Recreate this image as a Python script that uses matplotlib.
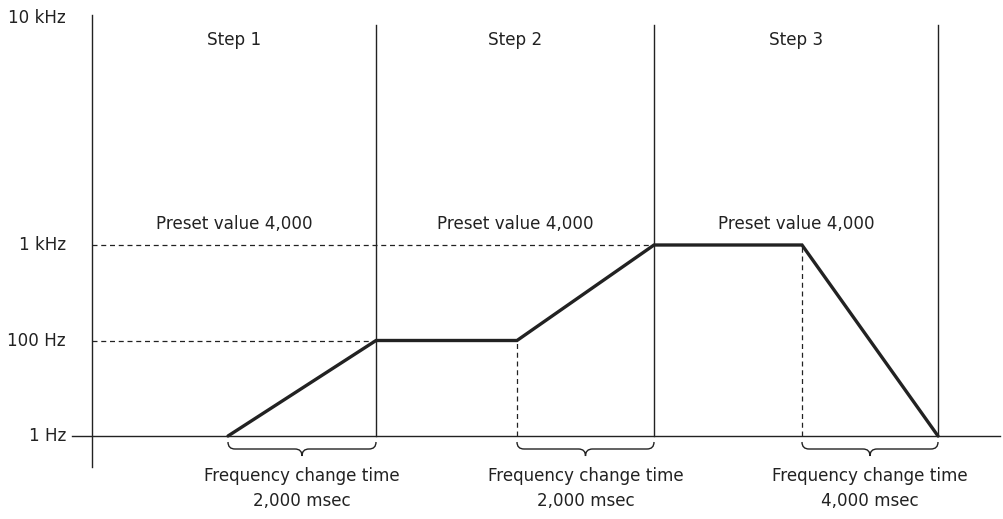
"""
Frequency profile of a 3-step pulse output (schematic).
"""
import numpy as np
import matplotlib
matplotlib.use("Agg")
import matplotlib.pyplot as plt
from matplotlib.path import Path
from matplotlib.patches import PathPatch

# schematic time positions (arbitrary units, y-axis at 0)
STEP_EDGES = [0, 284, 562, 846]
STEP_NAMES = ["Step 1", "Step 2", "Step 3"]
PRESET_LABEL = "Preset value 4,000"

# frequency levels (schematic, evenly spaced except the top one)
LEVEL_NAMES = ["1 Hz", "100 Hz", "1 kHz", "10 kHz"]
LEVEL_POS = [0.0, 1.0, 2.0, 4.38]

# output profile: time, level
PROFILE_T = [136, 284, 425, 562, 710, 846]
PROFILE_LV = [0.0, 1.0, 1.0, 2.0, 2.0, 0.0]

# frequency change intervals and their durations
CHANGE_SPANS = [(136, 284), (425, 562), (710, 846)]
CHANGE_TIMES = ["2,000 msec", "2,000 msec", "4,000 msec"]

INK = "#222222"

plt.rcParams["font.family"] = "DejaVu Sans"
fs = 12.1

fig = plt.figure(figsize=(10.04, 5.19), dpi=100)
ax = fig.add_axes([0, 0, 1, 1])
ax.set_xlim(-92, 912)
px = 1 / 95.5                      # one pixel in level units
ax.set_ylim(-83 * px, (519 - 83) * px)
ax.axis("off")

# y axis and baseline (1 Hz)
ax.plot([0, 0], [-31 * px, (436 - 15) * px], color=INK, lw=1.0)
ax.plot([-20, 908], [0, 0], color=INK, lw=1.0)

# step boundaries
for x in STEP_EDGES[1:]:
    ax.plot([x, x], [0, (436 - 25) * px], color=INK, lw=1.0)

# level labels
for name, lv in zip(LEVEL_NAMES, LEVEL_POS):
    ax.text(-26, lv, name, ha="right", va="center", fontsize=fs, color=INK)

# dashed guides
dash = dict(color=INK, lw=0.9, ls=(0, (4, 3)))
ax.plot([0, PROFILE_T[1]], [PROFILE_LV[1]] * 2, **dash)
ax.plot([0, PROFILE_T[3]], [PROFILE_LV[3]] * 2, **dash)
ax.plot([PROFILE_T[2]] * 2, [0, PROFILE_LV[2]], **dash)
ax.plot([PROFILE_T[4]] * 2, [0, PROFILE_LV[4]], **dash)

# profile
ax.plot(PROFILE_T, PROFILE_LV, color=INK, lw=2.4, solid_capstyle="round",
        solid_joinstyle="miter", zorder=5)

# step titles and preset labels
for i, name in enumerate(STEP_NAMES):
    xc = (STEP_EDGES[i] + STEP_EDGES[i + 1]) / 2
    ax.text(xc, (436 - 40) * px, name, ha="center", va="center", fontsize=fs, color=INK)
    ax.text(xc, (436 - 224) * px, PRESET_LABEL, ha="center", va="center",
            fontsize=fs, color=INK)


def brace(x0, x1):
    xm = (x0 + x1) / 2
    y_top, y_mid, y_tip = -6 * px, -13 * px, -20 * px
    r = 7
    verts = [(x0, y_top), (x0, y_mid), (x0 + r, y_mid),
             (xm - r, y_mid),
             (xm, y_mid), (xm, y_tip),
             (xm, y_mid), (xm + r, y_mid),
             (x1 - r, y_mid),
             (x1, y_mid), (x1, y_top)]
    codes = [Path.MOVETO, Path.CURVE3, Path.CURVE3,
             Path.LINETO,
             Path.CURVE3, Path.CURVE3,
             Path.CURVE3, Path.CURVE3,
             Path.LINETO,
             Path.CURVE3, Path.CURVE3]
    ax.add_patch(PathPatch(Path(verts, codes), fill=False, edgecolor=INK, lw=1.0))


for (x0, x1), dur in zip(CHANGE_SPANS, CHANGE_TIMES):
    brace(x0, x1)
    xm = (x0 + x1) / 2
    ax.text(xm, -40 * px, "Frequency change time", ha="center", va="center",
            fontsize=fs, color=INK)
    ax.text(xm, -65 * px, dur, ha="center", va="center", fontsize=fs, color=INK)

plt.savefig("out.png", dpi=100)
plt.close()
